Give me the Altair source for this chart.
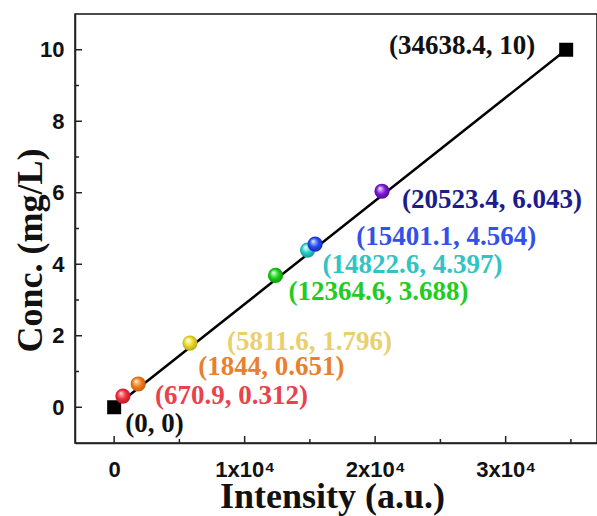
import altair as alt
import pandas as pd

# data
intensity = [0, 670.9, 1844, 5811.6, 12364.6, 14822.6, 15401.1, 20523.4, 34638.4]
conc = [0, 0.312, 0.651, 1.796, 3.688, 4.397, 4.564, 6.043, 10]
x_major = [0, 10000, 20000, 30000]
x_minor = [5000, 15000, 25000, 35000]
y_major = [0, 2, 4, 6, 8, 10]
y_minor = [1, 3, 5, 7, 9]

# styles (per point): marker kind, sphere colour, label colour, label dx, dy, align
kind = ["sq", "ball", "ball", "ball", "ball", "ball", "ball", "ball", "sq"]
ball_col = ["#000000", "#ee2c3a", "#f07a1c", "#e6d62a", "#18cc18", "#2cc8c8", "#2448ee", "#7a18d0", "#000000"]
light_col = ["#000000", "#ff8a90", "#ffc080", "#fff39a", "#90f090", "#a0f0f0", "#90a8ff", "#c890ff", "#000000"]
dark_col = ["#000000", "#b81420", "#c05808", "#b0a010", "#0a900a", "#129090", "#1028b0", "#4a0890", "#000000"]
text_col = ["#111111", "#e8434c", "#e8802e", "#e8d06e", "#22cc22", "#30c4c4", "#3350ea", "#1c1c8a", "#111111"]
dxs = [11, 32, 60, 37, 13, 15, 41, 20, -31]
dys = [17, 0, -17, -1, 17, 15, -7, 9, -4]
aligns = ["left"] * 8 + ["right"]

df = pd.DataFrame({"x": intensity, "y": conc})
df["label"] = [f"({a:g}, {b:g})" for a, b in zip(intensity, conc)]

W, H = 522, 429
xs = alt.Scale(domain=[-3000, 37000], nice=False, zero=False)
ys = alt.Scale(domain=[-1, 11], nice=False, zero=False)

x_axis = alt.Axis(
    values=x_major, ticks=False, grid=False, domainColor="#222", domainWidth=1.5,
    labelExpr="datum.value == 0 ? '0' : format(datum.value/10000, 'd') + 'x10⁴'",
    labelFont="Liberation Sans", labelFontWeight="bold", labelFontSize=22, labelColor="#111",
    labelPadding=16, labelFlush=False,
    title="Intensity (a.u.)", titleFont="Liberation Serif", titleFontWeight="bold",
    titleFontSize=36, titleColor="#111", titleBaseline="middle", titleY=53, titleX=W / 2 - 4,
)
y_axis = alt.Axis(
    values=y_major, ticks=False, grid=False, domainColor="#222", domainWidth=1.5,
    labelFont="Liberation Sans", labelFontWeight="bold", labelFontSize=22, labelColor="#111",
    labelPadding=11, labelFlush=False,
    title="Conc. (mg/L)", titleFont="Liberation Serif", titleFontWeight="bold",
    titleFontSize=36, titleColor="#111", titleBaseline="middle", titleAngle=-90,
    titleX=-45, titleY=236,
)

line = alt.Chart(df.iloc[[0, len(df) - 1]]).mark_line(
    color="#000", strokeWidth=2.5
).encode(x=alt.X("x:Q", scale=xs, axis=x_axis), y=alt.Y("y:Q", scale=ys, axis=y_axis))

layers = [line]

# ticks (inward)
tx = pd.DataFrame({"v": x_major + x_minor, "len": [7] * len(x_major) + [4] * len(x_minor)})
ty = pd.DataFrame({"v": y_major + y_minor, "len": [7] * len(y_major) + [4] * len(y_minor)})
for L in (7, 4):
    layers.append(alt.Chart(tx[tx["len"] == L]).mark_rule(color="#222", strokeWidth=1.5).encode(
        x=alt.X("v:Q", scale=xs), y=alt.value(H), y2=alt.value(H - L)))
    layers.append(alt.Chart(ty[ty["len"] == L]).mark_rule(color="#222", strokeWidth=1.5).encode(
        y=alt.Y("v:Q", scale=ys), x=alt.value(0), x2=alt.value(L)))

# markers
for k in range(len(df)):
    sub = df.iloc[[k]]
    if kind[k] == "sq":
        m = alt.Chart(sub).mark_square(size=196, color="#000", opacity=1)
    else:
        grad = alt.Gradient(
            gradient="radial", x1=0.35, y1=0.3, r1=0.0, x2=0.5, y2=0.5, r2=0.55,
            stops=[alt.GradientStop(offset=0, color="#ffffff"),
                   alt.GradientStop(offset=0.22, color=light_col[k]),
                   alt.GradientStop(offset=0.55, color=ball_col[k]),
                   alt.GradientStop(offset=1, color=dark_col[k])])
        m = alt.Chart(sub).mark_circle(size=230, color=grad, opacity=1)
    layers.append(m.encode(x=alt.X("x:Q", scale=xs), y=alt.Y("y:Q", scale=ys)))

# labels
for k in range(len(df)):
    sub = df.iloc[[k]]
    layers.append(alt.Chart(sub).mark_text(
        font="Liberation Serif", fontWeight="bold", fontSize=27, color=text_col[k],
        align=aligns[k], baseline="middle", dx=dxs[k], dy=dys[k]
    ).encode(x=alt.X("x:Q", scale=xs), y=alt.Y("y:Q", scale=ys), text="label:N"))

chart = alt.layer(*layers).properties(
    width=W, height=H,
    autosize=alt.AutoSizeParams(type="none"),
    padding={"left": 75, "top": 14, "right": 0, "bottom": 73},
    background="white",
).configure_view(stroke="#111", strokeWidth=1.5)

chart.save("out.html", embed_options={"renderer": "svg", "actions": False})
